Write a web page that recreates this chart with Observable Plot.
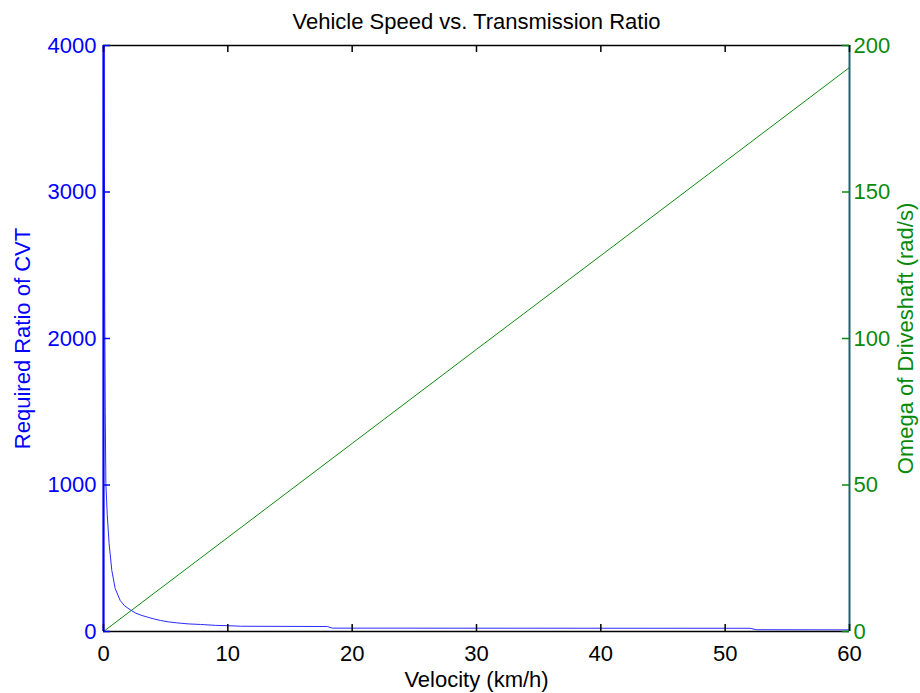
<!DOCTYPE html>
<html>
<head>
<meta charset="utf-8">
<script src="https://cdn.jsdelivr.net/npm/d3@7"></script>
<script src="https://cdn.jsdelivr.net/npm/@observablehq/plot@0.6"></script>
<style>
  html, body { margin: 0; padding: 0; background: #fff; }
  #chart svg { display: block; }
</style>
</head>
<body>
<div id="chart"></div>
<script>
// ---- data ----
const ratioVelocity = [0.05, 0.1, 0.14, 0.19, 0.3, 0.45, 0.67, 0.94, 1.34, 1.7, 2.15, 2.6, 3.1, 4.0, 4.6, 5.2, 5.9, 6.8, 7.8, 9.0, 10.5, 11, 18.0, 18.4, 52.0, 52.5, 60];
const ratioValues   = [4000, 2200, 1500, 1010, 800, 600, 416, 293, 212, 175, 148, 125, 109, 87, 75, 66, 59, 52, 48, 42, 38, 36, 34, 23, 22, 12, 11];
const omegaVelocity = [0, 10, 20, 30, 40, 50, 60];
const omegaValues   = [0, 32.1, 64.2, 96.3, 128.3, 160.4, 192.5];
const xTicks = [0, 10, 20, 30, 40, 50, 60];
const ratioTicks = [0, 1000, 2000, 3000, 4000];
const omegaTicks = [0, 50, 100, 150, 200];
const titleText = "Vehicle Speed vs. Transmission Ratio";
const xLabel = "Velocity (km/h)";
const yLeftLabel = "Required Ratio of CVT";
const yRightLabel = "Omega of Driveshaft (rad/s)";

// right axis (0–200) is mapped onto the left scale (0–4000)
const omegaToRatio = 4000 / 200;

const ratioData = ratioVelocity.map((v, i) => ({v, r: ratioValues[i]}));
const omegaData = omegaVelocity.map((v, i) => ({v, w: omegaValues[i]}));

const W = 920, H = 693;
const mL = 103, mR = 71, mT = 45, mB = 62;
const plotW = W - mL - mR, plotH = H - mT - mB;
const tick = 7;
const fs = 22;
const blue = "#0000ff", green = "#0a8a0a", teal = "#1d6470";

const chart = Plot.plot({
  width: W, height: H,
  marginLeft: mL, marginRight: mR, marginTop: mT, marginBottom: mB,
  style: {fontFamily: "'Liberation Sans', Arial, sans-serif", background: "#fff"},
  x: {domain: [0, 60], axis: null},
  y: {domain: [0, 4000], axis: null},
  marks: [
    // data
    Plot.line(omegaData, {x: "v", y: d => d.w * omegaToRatio, stroke: "#108a10", strokeWidth: 1}),
    Plot.line(ratioData, {x: "v", y: "r", stroke: "#2a2aff", strokeWidth: 1}),
    // box
    Plot.ruleY([0], {stroke: "#000", strokeWidth: 1.5}),
    Plot.ruleY([4000], {stroke: "#000", strokeWidth: 1.5}),
    Plot.ruleX([60], {stroke: teal, strokeWidth: 2}),
    Plot.ruleX([0], {stroke: blue, strokeWidth: 2.2}),
    // inward ticks
    Plot.tickX(xTicks, {x: d => d, insetTop: plotH - tick, stroke: "#000", strokeWidth: 1.5}),
    Plot.tickX(xTicks, {x: d => d, insetBottom: plotH - tick, stroke: "#000", strokeWidth: 1.5}),
    Plot.tickY(ratioTicks, {y: d => d, insetRight: plotW - tick, stroke: blue, strokeWidth: 1.5}),
    Plot.tickY(omegaTicks, {y: d => d * omegaToRatio, insetLeft: plotW - tick, stroke: green, strokeWidth: 1.5}),
    // tick labels
    Plot.text(xTicks, {x: d => d, text: d => String(d), frameAnchor: "bottom", lineAnchor: "top", dy: 14, fontSize: fs, fill: "#000"}),
    Plot.text(ratioTicks, {y: d => d, text: d => String(d), frameAnchor: "left", textAnchor: "end", dx: -7, fontSize: fs, fill: blue}),
    Plot.text(omegaTicks, {y: d => d * omegaToRatio, text: d => String(d), frameAnchor: "right", textAnchor: "start", dx: 4, fontSize: fs, fill: green}),
    // labels & title
    Plot.text([titleText], {frameAnchor: "top", lineAnchor: "bottom", dy: -17, fontSize: fs, fill: "#000"}),
    Plot.text([xLabel], {frameAnchor: "bottom", lineAnchor: "top", dy: 40, fontSize: fs, fill: "#000"}),
    Plot.text([yLeftLabel], {frameAnchor: "left", textAnchor: "middle", rotate: -90, dx: -81, fontSize: fs, fill: blue}),
    Plot.text([yRightLabel], {frameAnchor: "right", textAnchor: "middle", rotate: -90, dx: 56, fontSize: fs, fill: green})
  ]
});
document.getElementById("chart").appendChild(chart);
</script>
</body>
</html>
